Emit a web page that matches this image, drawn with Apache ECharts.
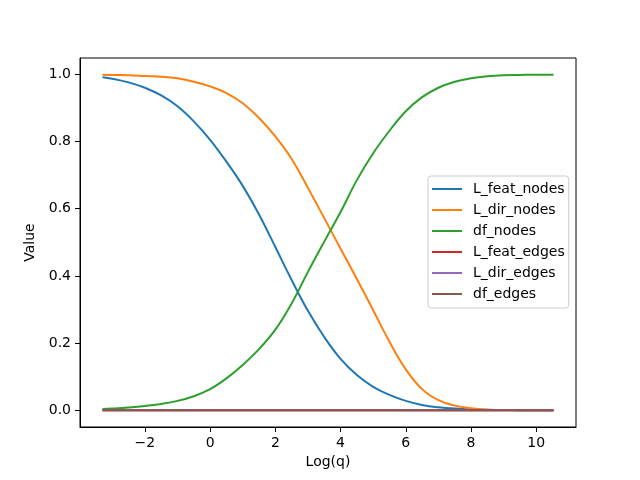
<!DOCTYPE html>
<html>
<head>
<meta charset="utf-8">
<script src="https://cdn.jsdelivr.net/npm/echarts@6/dist/echarts.min.js"></script>
<style>html,body{margin:0;padding:0;background:#fff}#c{width:640px;height:480px}</style>
</head>
<body>
<div id="c"></div>
<script>
var xs = [-3.3, -3.0, -2.5, -2.0, -1.5, -1.0, -0.5, 0.0, 0.5, 1.0, 1.5, 2.0, 2.5, 3.0, 3.5, 4.0, 4.5, 5.0, 5.5, 6.0, 6.5, 7.0, 7.5, 8.0, 8.5, 9.0, 9.5, 10.0, 10.53];
var L_feat_nodes = [0.991, 0.987, 0.976, 0.960, 0.937, 0.905, 0.860, 0.805, 0.740, 0.668, 0.583, 0.486, 0.388, 0.296, 0.218, 0.153, 0.105, 0.070, 0.046, 0.028, 0.016, 0.009, 0.005, 0.003, 0.0015, 0.001, 0.0005, 0.0003, 0.0002];
var L_dir_nodes = [0.999, 0.998, 0.997, 0.995, 0.993, 0.988, 0.978, 0.964, 0.944, 0.914, 0.870, 0.815, 0.748, 0.662, 0.572, 0.481, 0.391, 0.298, 0.204, 0.122, 0.063, 0.030, 0.014, 0.006, 0.002, 0.001, 0.0005, 0.0003, 0.0002];
var df_nodes = [0.004, 0.005, 0.008, 0.013, 0.019, 0.028, 0.042, 0.063, 0.095, 0.135, 0.182, 0.240, 0.318, 0.412, 0.502, 0.590, 0.685, 0.765, 0.832, 0.890, 0.932, 0.960, 0.978, 0.988, 0.994, 0.997, 0.998, 0.999, 0.999];
var L_feat_edges = [0, 0, 0, 0, 0, 0, 0, 0, 0, 0, 0, 0, 0, 0, 0, 0, 0, 0, 0, 0, 0, 0, 0, 0, 0, 0, 0, 0, 0];
var L_dir_edges = [0, 0, 0, 0, 0, 0, 0, 0, 0, 0, 0, 0, 0, 0, 0, 0, 0, 0, 0, 0, 0, 0, 0, 0, 0, 0, 0, 0, 0];
var df_edges = [0, 0, 0, 0, 0, 0, 0, 0, 0, 0, 0, 0, 0, 0, 0, 0, 0, 0, 0, 0, 0, 0, 0, 0, 0, 0, 0, 0, 0];
var xTicks = [-2, 0, 2, 4, 6, 8, 10];
var yTicks = [0, 0.2, 0.4, 0.6, 0.8, 1.0];
var seriesNames = ['L_feat_nodes', 'L_dir_nodes', 'df_nodes', 'L_feat_edges', 'L_dir_edges', 'df_edges'];
var seriesValues = [L_feat_nodes, L_dir_nodes, df_nodes, L_feat_edges, L_dir_edges, df_edges];
var colors = ['#1f77b4', '#ff7f0e', '#2ca02c', '#d62728', '#9467bd', '#8c564b'];

var FONT = 'DejaVu Sans';
var chart = echarts.init(document.getElementById('c'), null, {renderer: 'canvas'});
var series = seriesNames.map(function (n, i) {
  return {
    name: n, type: 'line', smooth: 0.4, symbol: 'none', animation: false,
    lineStyle: {color: colors[i], width: 2}, itemStyle: {color: colors[i]},
    data: xs.map(function (x, j) { return [x, seriesValues[i][j]]; })
  };
});
chart.setOption({
  animation: false,
  color: colors,
  grid: {left: 80, right: 64, top: 58, bottom: 53, show: true, borderColor: '#000', borderWidth: 1, backgroundColor: 'transparent'},
  xAxis: {
    type: 'value', min: -3.99, max: 11.22,
    name: 'Log(q)', nameLocation: 'middle', nameGap: 27,
    nameTextStyle: {fontFamily: FONT, fontSize: 14, color: '#000'},
    axisLine: {show: true, onZero: false, lineStyle: {color: '#000', width: 1}},
    axisTick: {show: true, length: 5, customValues: xTicks, lineStyle: {color: '#000'}},
    axisLabel: {customValues: xTicks, margin: 9, fontFamily: FONT, fontSize: 14, color: '#000',
      formatter: function (v) { return v < 0 ? '\u2212' + Math.abs(v) : String(v); }},
    splitLine: {show: false}
  },
  yAxis: {
    type: 'value', min: -0.0497, max: 1.0485,
    name: 'Value', nameLocation: 'middle', nameGap: 35, nameRotate: 90,
    nameTextStyle: {fontFamily: FONT, fontSize: 14, color: '#000'},
    axisLine: {show: true, onZero: false, lineStyle: {color: '#000', width: 1}},
    axisTick: {show: true, length: 5, customValues: yTicks, lineStyle: {color: '#000'}},
    axisLabel: {customValues: yTicks, margin: 9, fontFamily: FONT, fontSize: 14, color: '#000',
      formatter: function (v) { return v.toFixed(1); }},
    splitLine: {show: false}
  },
  legend: {
    orient: 'vertical', left: 428, top: 176,
    padding: [6, 4, 7, 4],
    icon: 'rect',
    itemWidth: 30, itemHeight: 2, itemGap: 7,
    backgroundColor: 'rgba(255,255,255,0.8)', borderColor: '#cccccc', borderWidth: 1, borderRadius: 3,
    textStyle: {fontFamily: FONT, fontSize: 14, color: '#000', lineHeight: 14, padding: [0, 0, 0, 6]},
    data: seriesNames
  },
  series: series
});
</script>
</body>
</html>
